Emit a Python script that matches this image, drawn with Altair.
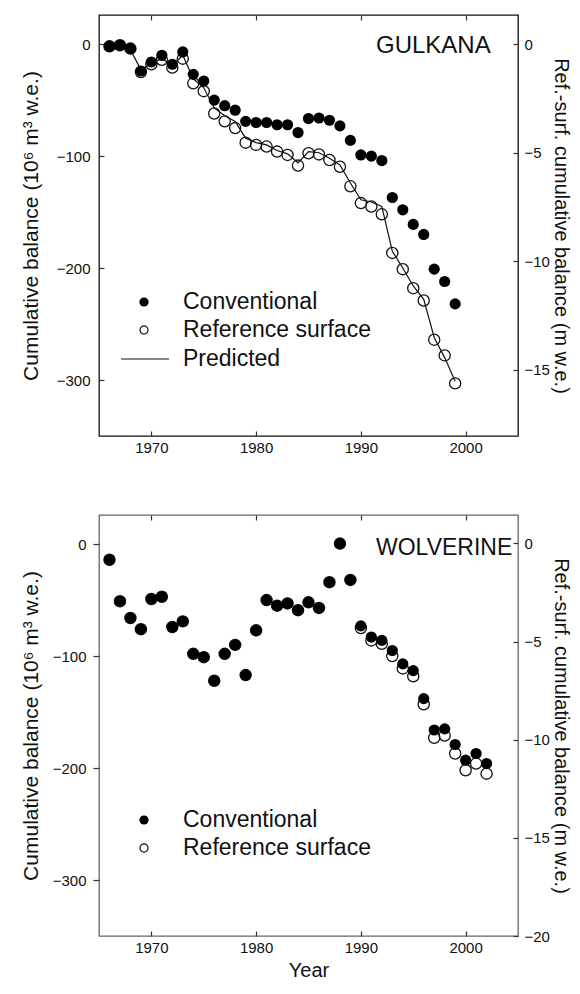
import altair as alt
import pandas as pd

FONT = "Liberation Sans"

# ---------------- data ----------------
years_g = list(range(1966, 2000))
gulkana_conv = [-2, -1, -4, -24, -16, -10, -18, -7, -27, -33, -50, -55, -59, -69, -70, -70,
                -72, -72, -79, -66.5, -66, -68, -73, -86, -99, -100, -104, -137, -148, -161,
                -170, -201, -212, -232]
gulkana_ref = [-2, -1, -4, -25, -18, -14, -21, -13, -35, -42, -62, -69, -75, -88, -90, -91.5,
               -96, -99, -108.5, -97.5, -98.5, -103.5, -109.5, -127, -142, -145, -152, -186.5,
               -201, -218, -229, -264, -278, -303]
gulkana_pred = [-2, -1, -5, -23, -17, -13, -19, -10, -31, -39, -57, -64, -69, -84, -88, -90,
                -95, -98, -106, -96, -97, -102, -108, -124, -139, -141, -145, -185, -200, -216,
                -228, -262, -280, -301]

years_w = list(range(1966, 2003))
wolv_conv = [-14, -51, -66, -76, -49, -47, -74, -69, -98, -101, -122, -98, -90, -117, -77, -50,
             -55, -53, -59, -52, -57, -34, 0.5, -32, -73, -83, -86, -95, -107, -113, -138, -166,
             -165, -179, -193, -187, -196]
wolv_ref = [-14, -51, -66, -76, -49, -47, -74, -69, -98, -101, -122, -98, -90, -117, -77, -50,
            -55, -53, -59, -52, -57, -34, 0.5, -32, -75, -86, -89, -100, -111, -118, -143, -173,
            -171, -187, -202, -196, -205]

x_ticks = [1970, 1980, 1990, 2000]
left_ticks = [0, -100, -200, -300]
right_ticks_g = [0, -5, -10, -15]
right_ticks_w = [0, -5, -10, -15, -20]

legend_labels = ["Conventional", "Reference surface", "Predicted"]
panel_names = ["GULKANA", "WOLVERINE"]

LEFT_TITLE = "Cumulative balance (10\u2076 m\u00b3 w.e.)"
RIGHT_TITLE = "Ref.-surf. cumulative balance (m w.e.)"

W = 419
H = 421
X_DOMAIN = [1965, 2005]
Y_DOMAIN = [-350, 26]


def panel(name, name_size, name_y, years, conv, ref, pred, right_domain, right_ticks,
          frame_color, left_inward, show_xtitle, with_pred, leg_dy):
    cols = {"Year": years, "conv": conv, "ref": ref}
    if with_pred:
        cols["pred"] = pred
    df = pd.DataFrame(cols)

    xsc = alt.Scale(domain=X_DOMAIN, nice=False, zero=False)
    xaxis = alt.Axis(values=x_ticks, format="d", orient="bottom", offset=-5, tickSize=5,
                     domain=False, labelPadding=4, grid=False,
                     title="Year" if show_xtitle else None, titlePadding=5)
    ysc = alt.Scale(domain=Y_DOMAIN, nice=False, zero=False)
    if left_inward:
        yaxis = alt.Axis(values=left_ticks, title=LEFT_TITLE, orient="left", offset=-5,
                         tickSize=5, domain=False, grid=False, labelPadding=9,
                         titlePadding=15, titleFontSize=21)
    else:
        yaxis = alt.Axis(values=left_ticks, title=LEFT_TITLE, orient="left", offset=0,
                         tickSize=6, domain=False, grid=False, labelPadding=7,
                         titlePadding=11, titleFontSize=21)

    base = alt.Chart(df)
    layers = []
    layers.append(base.mark_point(shape="circle", filled=False, size=125, stroke="#111",
                                  strokeWidth=1.3, opacity=1)
                  .encode(x=alt.X("Year:Q", scale=xsc, axis=xaxis),
                          y=alt.Y("ref:Q", scale=ysc, axis=yaxis)))
    if with_pred:
        layers.append(base.mark_line(color="#111", strokeWidth=1.2)
                      .encode(x=alt.X("Year:Q", scale=xsc, axis=xaxis),
                              y=alt.Y("pred:Q", scale=ysc, axis=yaxis)))
    layers.append(base.mark_circle(size=125, color="black", opacity=1)
                  .encode(x=alt.X("Year:Q", scale=xsc, axis=xaxis),
                          y=alt.Y("conv:Q", scale=ysc, axis=yaxis)))

    # panel name
    layers.append(alt.Chart(pd.DataFrame({"t": [name]}))
                  .mark_text(align="left", baseline="middle", font=FONT, fontSize=name_size,
                             color="#111")
                  .encode(text="t:N", x=alt.value(W - 142), y=alt.value(name_y)))

    # legend
    leg = pd.DataFrame({"t": legend_labels})
    lx_sym = 45
    lx_txt = 84
    ly0 = 287 + leg_dy
    layers.append(alt.Chart(leg.iloc[[0]]).mark_circle(size=85, color="black", opacity=1)
                  .encode(x=alt.value(lx_sym), y=alt.value(ly0)))
    layers.append(alt.Chart(leg.iloc[[0]]).mark_text(align="left", baseline="middle", font=FONT,
                                                    fontSize=23, color="#111")
                  .encode(text="t:N", x=alt.value(lx_txt), y=alt.value(ly0)))
    layers.append(alt.Chart(leg.iloc[[1]]).mark_point(shape="circle", filled=False, size=65,
                                                     stroke="#111", strokeWidth=1.2, opacity=1)
                  .encode(x=alt.value(lx_sym), y=alt.value(ly0 + 28)))
    layers.append(alt.Chart(leg.iloc[[1]]).mark_text(align="left", baseline="middle", font=FONT,
                                                    fontSize=23, color="#111")
                  .encode(text="t:N", x=alt.value(lx_txt), y=alt.value(ly0 + 28)))
    if with_pred:
        layers.append(alt.Chart(leg.iloc[[2]]).mark_rule(color="#111", strokeWidth=1.2)
                      .encode(x=alt.value(22), x2=alt.value(70), y=alt.value(ly0 + 57)))
        layers.append(alt.Chart(leg.iloc[[2]]).mark_text(align="left", baseline="middle",
                                                        font=FONT, fontSize=23, color="#111")
                      .encode(text="t:N", x=alt.value(lx_txt), y=alt.value(ly0 + 57)))

    left = alt.layer(*layers)

    right = (alt.Chart(pd.DataFrame({"m": right_ticks}))
             .mark_point(opacity=0)
             .encode(y=alt.Y("m:Q", scale=alt.Scale(domain=right_domain, nice=False, zero=False),
                             axis=alt.Axis(orient="right", values=right_ticks, offset=-5,
                                           tickSize=5, domain=False, grid=False, labelPadding=6,
                                           title=RIGHT_TITLE, titlePadding=1,
                                           titleFontSize=20))))

    top = (alt.Chart(pd.DataFrame({"Year": x_ticks}))
           .mark_point(opacity=0)
           .encode(x=alt.X("Year:Q", scale=xsc,
                           axis=alt.Axis(orient="top", values=x_ticks, labels=False, offset=-5,
                                         tickSize=5, domain=False, grid=False, title=None))))

    return (alt.layer(left, right, top)
            .resolve_scale(y="independent")
            .resolve_axis(x="independent", y="independent")
            .properties(width=W, height=H,
                        view=alt.ViewBackground(stroke=frame_color, strokeWidth=1.3)))


top_panel = panel(panel_names[0], 24, 31, years_g, gulkana_conv, gulkana_ref, gulkana_pred,
                  [-18.04, 1.34], right_ticks_g, "#111", True, False, True, 0)
bottom_panel = panel(panel_names[1], 23, 33, years_w, wolv_conv, wolv_ref, None,
                     [-20.0, 1.45], right_ticks_w, "#666", False, True, False, 18)

chart = (alt.vconcat(top_panel, bottom_panel, spacing=57)
         .properties(padding={"left": 11, "top": 5, "right": 0, "bottom": 0},
                     background="white")
         .configure_axis(labelFont=FONT, titleFont=FONT, labelFontSize=15, titleFontSize=20,
                         labelColor="#111", titleColor="#111", titleFontWeight="normal",
                         tickColor="#333", tickWidth=1.2)
         .configure_view(stroke="#111"))

chart.save("out.html", embed_options={"renderer": "svg", "actions": False})
